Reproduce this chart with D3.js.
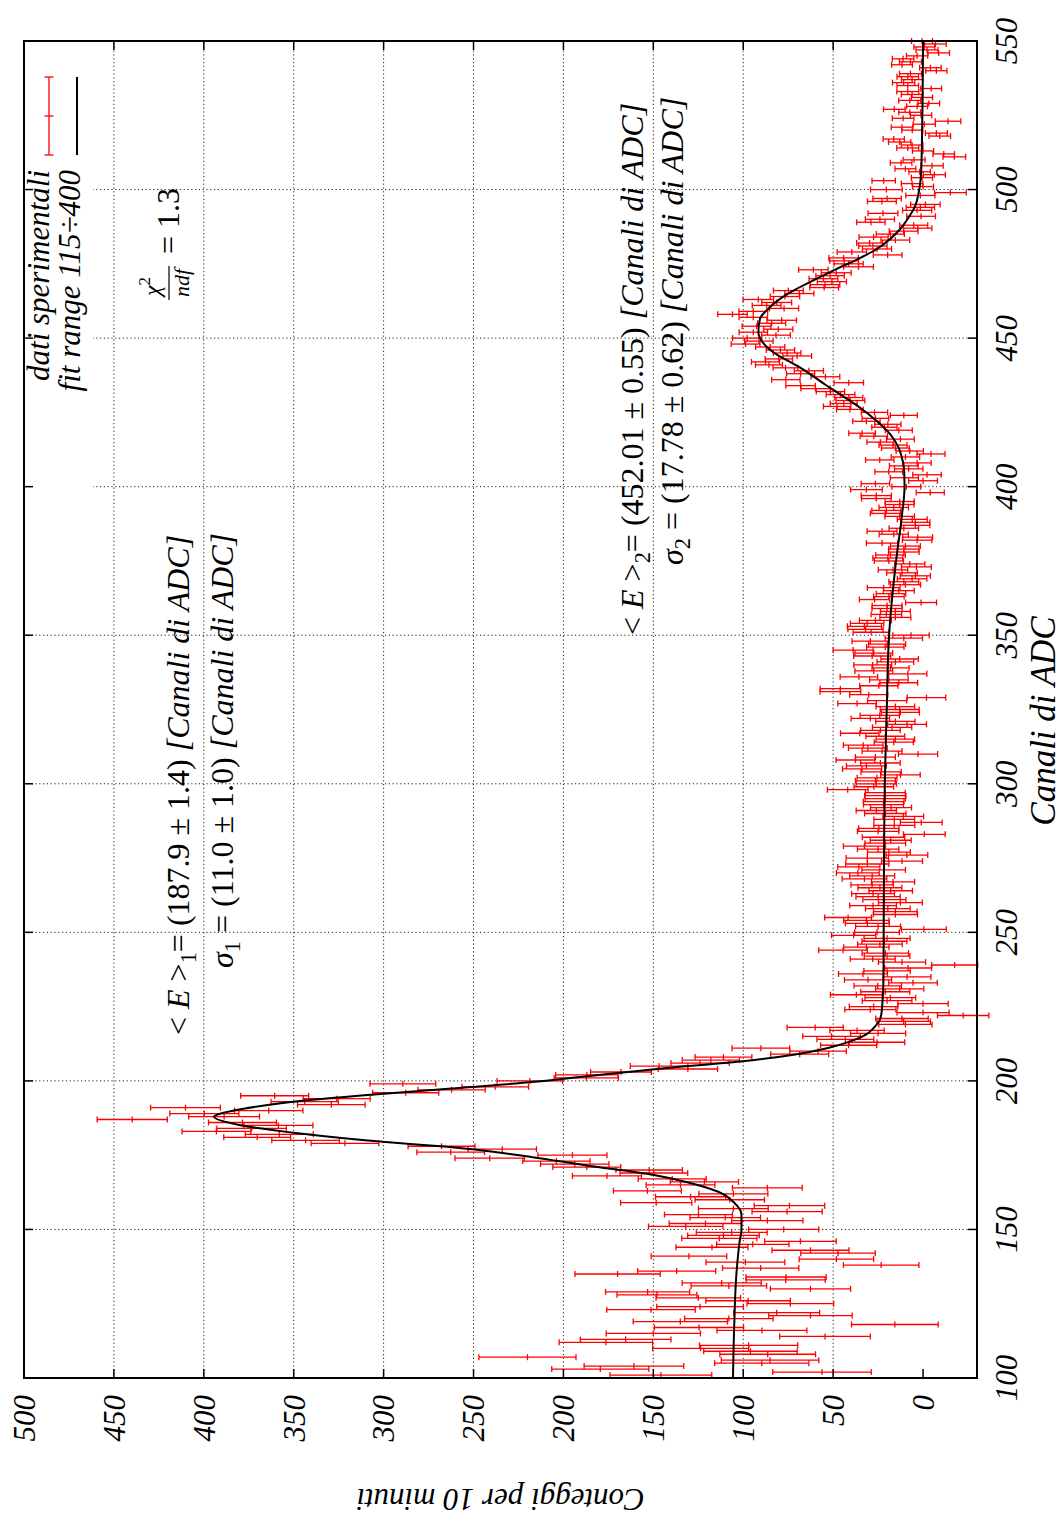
<!DOCTYPE html>
<html>
<head>
<meta charset="utf-8">
<script src="https://cdn.jsdelivr.net/npm/d3@7"></script>
<style>
  html, body { margin: 0; padding: 0; background: #fff; }
  svg { display: block; }
  text { font-family: "Liberation Serif", "Times New Roman", serif; fill: #000; }
</style>
</head>
<body>
<svg id="grafico" width="1064" height="1522"></svg>
<script>
// Spettro: conteggi per 10 minuti in funzione del canale ADC (un valore per canale, dal canale 101)
const primoCanale = 101;
const conteggi = [
  145.8, 56.2, 179.5, 160.8, 89.7, 85.1, 220, 86.4, 96, 123.7,
  97, 176.4, 165.4, 54.5, 150, 89.6, 124.6, 15.7, 135, 108,
  62.6, 81.4, 151.3, 124, 73.8, 97.3, 125, 148, 153.2, 62.6,
  108, 112, 76.4, 76.2, 169.9, 137, 90.3, 23.3, 98.8, 48.2,
  130.2, 47.3, 62.6, 117.4, 94.7, 68.2, 113.3, 111, 106.4, 77.5, 132,
  121, 86.6, 110, 124.9, 75.6, 105.5, 74.3, 148.4, 107.5, 129.3,
  105.5, 153.3, 86.6, 134.9, 121.6, 139.5, 175.8, 149.7, 152.3, 187,
  193.7, 203.9, 241, 195, 262.7, 234, 267.8, 321.5, 343.4, 370.3,
  358, 393, 373.4, 358.5, 378.5, 439.8, 388.7, 399.7, 363.9, 410.2,
  329.1, 343.9, 326.1, 360.6, 287.7, 262.2, 237.9, 289.3, 218.7, 187.3,
  187, 168, 130.8, 146.8, 124, 118, 111, 68.6, 58.4, 90.2,
  41.4, 25.6, 43.2, 50.9, 25, 36.7, 60, 9.8, 10.8, 11.7,
  -22.3, 0, 29.3, 27.5, 0, 20, 18.2, 37.1, 21, 13,
  25.2, 5.6, 30.6, 8.9, 33.4, 20, 8.3, -17.6, 11.7, 28,
  20, 21, 44.5, 31.5, 24, 21.5, 20, 38.6,
  25.6, -0.4, 25, 31, 31.5, 41.7, 15.4, 15.4, 19.6, 27.8,
  12.6, 21.5, 25, 27.8, 18, 24, 28.3, 16.7, 32.6, 28.3,
  36.3, 21.9, 35.7, 31, 11.7, 31, 9, 19, 25, 32.6,
  21, 18, 22, -0.7, 25, 24.6, 16, 1, 16, 11,
  21, 26, 17.8, 22, 21.9, 21, 21, 21, 41.9, 27.4,
  26, 26.5,
  25.6, 12.6, 23.3, 33.9, 31.5, 23.7, 37.6, 26.5, 2.8, 22.8,
  30.7, 33.3, 16.3, 15.4, 21, 35.2, 23.7, 17.2, 8.9, 15.4,
  29.3, 24.1, 12.6, 13, 15.4, 36.7, 20, -1.9, 30.2, 46,
  46, 24.6, 13.5, 19, 35.7, 8.5, 27.4, 18.1, 28, 15.4,
  13, 28.3, 27.4, 38.9, 21, 20, 29.3, 10.7, 6.7,
  28.9, 32, 32.6, 31.1, 26.5, 15.4, 20.4, 15.4, 20, 20,
  1.1, 27, 19, 17.8, 13.5, 21.9, 9.8, 10.7, 6.1, 4.3,
  11.7, 16.7, 3.7, 7.4, 19, 19.6, 18.1, 10.7, 10.7, 9.8,
  22.8, 3.3, 3, 16.3, 22.8, 10.7, 4.3, 4.3, 6, 13,
  21, 20.4, 16.3, 13, 13, 26, 26, -4, 31.5, 9.3,
  26.5, 0, 10.4, -2.2, 19.1, 8, 10.7, 3.3, 24.1, 9.8,
  -4.4, 7.4, 15.4, 16.7, 23.7, 12.6, 27.4, 33.9, 13.5, 21.5,
  19.6, 31.5, 26.5, 10.7, 27, 40.7, 47.8, 44.1, 40.4, 41.3,
  45.9, 51.5, 59.8, 68.1, 41.3, 76.3, 54.3, 68.1, 63.5, 76.5,
  85.7, 87.6, 80.2, 70, 75.6, 79.3, 85, 98.7, 91.3, 97.8,
  81.8, 94.4, 80.5, 92.6, 84.2, 78.6, 94.4, 106, 94.4, 77.3,
  87, 81.4, 91.6, 76.8, 68.8, 74.9, 55, 54.5, 50.7, 55.4,
  51.7, 48.3, 61, 35.9, 41.4, 43.9, 44.2, 19.7, 39.6, 25.6,
  27.9, 29.7, 15.4, 27.5, 18.2, 10.8, 3, 5.2, 29, 24,
  1.1, 22.3, 3.3, 1.5, -1.3, 22.9, 20, 1.5, -15.2, 20.4,
  0, 6.1, 21.9, 0.6, -6.3, 1.9, 9.8, -5, 12.2, 5,
  -17.4, -11.5, 0, 8.5, 6.1, 13, 16.3, -9.3, -7.4, 6,
  11.7, -0.7, -13.9, 11.1, 1.1, 7.4, 16, 3.3, -3.2, 7.4,
  0.6, 6.1, 8.5, -4.5, 8.5, 10.8, 6.1, 8.5, 7, -7.4,
  -4.1, 11.7, 7, 11.1, 3.3, -8.7, -2.2, -0.7, -6.9, 0.6
];

// Incertezza su ciascun conteggio (semiampiezza della barra)
const errori = [
  28.3, 27.4, 27, 27.7, 26.2, 27.1, 27, 26.6, 26, 26.7,
  27.3, 26, 25.2, 25.2, 26.2, 25, 24.8, 24.1, 26.2, 24.6,
  23.2, 23.9, 24.6, 24.1, 24.1, 23.5, 23.5, 22.2, 23.4, 22.3,
  21, 22, 22, 22.3, 23.7, 21.7, 21.2, 21, 21.9, 20.7,
  21, 20.7, 21.4, 20, 20.1, 19.9, 20.9, 19.9, 19.7, 19.5, 20.7,
  20.2, 19.8, 19.6, 18.9, 19.5, 19.4, 19.6, 19.8, 19.3, 19.5,
  19.2, 18.9, 19.4, 19.1, 19, 18.9, 19.2, 18.8, 18.5, 18.9,
  19, 18.7, 19.3, 19.2, 18.8, 19, 18.6, 18.8, 18.8, 18.6,
  18.9, 19.1, 19.3, 19.2, 18.9, 19.5, 19.7, 19.2, 19, 19.4,
  18.8, 18.7, 18.6, 18.9, 18.4, 18.7, 18.5, 18.3, 18.2, 17.9,
  17.3, 16.9, 16.5, 16, 16.2, 15.9, 15.8, 16.1, 15.7, 16,
  15.6, 15.4, 15.8, 16, 15.3, 15.1, 15.6, 14.8, 14.9, 14.6,
  14.3, 14.5, 14.2, 13.5, 14, 13.8, 14.1, 14.4, 13.6, 13.4,
  13.2, 13.5, 13.1, 13.3, 13.6, 12.9, 13, 12.8, 13.1, 12.5,
  12.7, 12.9, 13.5, 12.6, 12.4, 12.5, 12.8, 12.3,
  12.4, 12.5, 12.5, 12.2, 12.6, 13, 12.3, 12.1, 12.4, 13,
  12.2, 12, 12.3, 11.9, 12.1, 12.2, 11.8, 12, 12.4, 12.5,
  11.9, 12.1, 11.7, 12, 11.4, 11.8, 11.6, 11.9, 11.5, 11.7,
  11.3, 11.4, 11.8, 11.6, 11.5, 11.2, 11.4, 11.6, 11.3, 11.3,
  11.5, 11.2, 11.4, 11.1, 11.3, 11.2, 11.5, 11.1, 11.3, 11,
  11.2, 11.1,
  11.1, 11, 11.2, 10.9, 11.1, 11, 10.8, 11.1, 10.9, 11.1,
  10.8, 11, 10.9, 10.7, 10.8, 10.7, 11, 10.9, 10.8, 10.9,
  10.7, 10.9, 10.6, 10.8, 10.7, 10.7, 10.9, 10.7, 10.6, 11.3,
  11.2, 10.6, 10.5, 10.7, 10.4, 10.6, 10.5, 10.3, 10.5, 10.2,
  10.4, 10.3, 10.5, 11.1, 10.4, 10.3, 10.2, 10.4, 10.1,
  10, 9.8, 9.5, 9.3, 8.9, 8.6, 8.5, 8.3, 8.4, 8.3,
  8.6, 8.4, 8.5, 8.2, 8.6, 9.1, 8.4, 8.3, 8.2, 8.4,
  8.5, 8.2, 8.3, 8.4, 8.1, 8.3, 8.2, 8.5, 8.4, 8.3,
  8.7, 8.2, 8.3, 8.1, 8.3, 8.2, 8, 8.1, 8.3, 8.2,
  8.3, 8.1, 8.2, 8, 8.1, 8.2, 8.4, 7.8, 8.8, 8,
  7.9, 8, 7.8, 7.9, 7.7, 7.9, 8, 7.8, 7.9, 7.9,
  7.8, 7.6, 7.7, 7.8, 7.5, 7.7, 7.6, 7.4, 7.5, 7,
  7.3, 7.6, 7.4, 7.5, 7.3, 7.4, 7.6, 7.5, 8, 7.8,
  8, 7.9, 8.1, 8.2, 8.2, 7.9, 8, 7.8, 8.1, 6.9,
  7.5, 7.8, 7.6, 8, 7.7, 7.9, 8.1, 8, 7.9, 8.1,
  8, 7.9, 8.1, 8, 7.8, 8.2, 7.9, 8.2, 8, 8.1,
  8, 8.3, 8.5, 8.2, 8.1, 8.3, 8, 8.2, 8.1, 8,
  7.9, 8.3, 8.2, 8.3, 8.1, 8, 8.2, 8, 8.2, 8.1,
  7.9, 7.2, 8, 8.1, 7.8, 8, 7.9, 7.8, 7.9, 8.1,
  8, 8.3, 8.1, 7.9, 8.2, 8, 7.9, 8.1, 8.8, 8.8,
  5.8, 6, 6.5, 5.9, 6.1, 6, 5.8, 6.2, 6, 6.1,
  6.3, 6, 5.9, 6.1, 6, 6.2, 5.9, 6, 6.1, 5.8,
  6, 6.2, 7.1, 6, 5.9, 6.1, 6, 5.8, 6, 6.1,
  5.9, 6, 6.1, 5.8, 6, 6.2, 5.9, 6, 6.1, 5.9,
  6, 5.8, 6.1, 6, 5.9, 6, 6.1, 5.8, 6, 5.8
];

// Curva di fit (due picchi su fondo), punti letti lungo la curva
const fitCanali = [
  100, 118, 135, 146, 150, 155, 159, 162.7, 166, 168.3,
  171.6, 174.4, 177.8, 179.5, 182.3, 185.1, 187.9, 190.7, 192.9, 195.2,
  197.4, 199.7, 201.5, 204.3, 206.5, 208.8, 211, 213.3, 215.5, 217.8,
  221.1, 224.5, 235, 250, 275, 300, 325, 350, 375, 390,
  400, 405, 408.5, 413, 417.5, 422, 426.5, 431, 434.3, 440,
  445.5, 450, 452.01, 456.5, 459.9, 463.2, 466.6, 470, 473.3, 476.7,
  480, 483.4, 486.8, 490.1, 494.6, 499.1, 508, 550
];
const fitValori = [
  105.7, 105, 103.8, 102, 101, 101, 105, 113.9, 131.8, 149.7,
  188, 218, 264.7, 300.5, 346.5, 379.7, 394.3, 377.2, 351.6, 310.7,
  262.2, 216, 188, 142.5, 101.7, 72, 53.4, 40.4, 32, 27.5,
  23.7, 22.8, 22, 21.9, 21.7, 21.3, 20.2, 18.9, 15, 11.8,
  10.3, 10.5, 11.3, 13.5, 18.1, 25.6, 34.8, 45.9, 54.3, 68.1,
  83.9, 90.7, 91.6, 90.7, 86.1, 79.6, 70.3, 59.1, 48, 35.9,
  25.7, 18.2, 12.6, 8.6, 4.3, 2.4, 0.9, 0
];

const tickCanali = [100, 150, 200, 250, 300, 350, 400, 450, 500, 550];
const tickConteggi = [0, 50, 100, 150, 200, 250, 300, 350, 400, 450, 500];

const etichettaX = "Canali di ADC";
const etichettaY = "Conteggi per 10 minuti";
const legendaDati = "dati sperimentali";
const legendaFit = "fit range 115÷400";

// ---- impaginazione: il grafico è disegnato orizzontale e poi ruotato di 90° ----
const W = 1522, H = 1064;
const area = { x0: 144, x1: 1481, y0: 24, y1: 977 };

const svg = d3.select("#grafico");
const g = svg.append("g").attr("transform", `translate(0,${W}) rotate(-90)`);

const x = d3.scaleLinear().domain([100, 550]).range([area.x0, area.x1]);
const y = d3.scaleLinear().domain([-30, 500]).range([area.y1, area.y0]);

const FS = 31;

// griglia punteggiata
const griglia = g.append("g").attr("stroke", "#222").attr("stroke-width", 1)
  .attr("stroke-dasharray", "1.2,2.6").attr("fill", "none");
tickCanali.slice(1, -1).forEach(c => {
  griglia.append("line").attr("x1", x(c)).attr("x2", x(c)).attr("y1", area.y0).attr("y2", area.y1);
});
tickConteggi.slice(1, -1).forEach(v => {
  griglia.append("line").attr("x1", area.x0).attr("x2", area.x1).attr("y1", y(v)).attr("y2", y(v));
});

// riquadro della legenda (copre la griglia)
g.append("rect").attr("x", 1022).attr("y", area.y0 + 1).attr("width", area.x1 - 1023).attr("height", 68)
  .attr("fill", "#fff");

// dati con barre d'errore
const dati = conteggi.map((v, i) => ({ c: primoCanale + i, v, e: errori[i] }));
const cap = 3;
const punti = g.append("g").attr("stroke", "#ff0000").attr("stroke-width", 1.3).attr("fill", "none");
const pg = punti.selectAll("g").data(dati).join("g");
pg.append("line")
  .attr("x1", d => x(d.c)).attr("x2", d => x(d.c))
  .attr("y1", d => y(d.v - d.e)).attr("y2", d => y(d.v + d.e));
pg.append("line")
  .attr("x1", d => x(d.c) - cap).attr("x2", d => x(d.c) + cap)
  .attr("y1", d => y(d.v - d.e)).attr("y2", d => y(d.v - d.e));
pg.append("line")
  .attr("x1", d => x(d.c) - cap).attr("x2", d => x(d.c) + cap)
  .attr("y1", d => y(d.v + d.e)).attr("y2", d => y(d.v + d.e));
pg.append("line")
  .attr("x1", d => x(d.c) - cap).attr("x2", d => x(d.c) + cap)
  .attr("y1", d => y(d.v)).attr("y2", d => y(d.v));

// curva di fit
const fitPunti = fitCanali.map((c, i) => [c, fitValori[i]]);
g.append("path").datum(fitPunti)
  .attr("fill", "none").attr("stroke", "#000").attr("stroke-width", 2)
  .attr("d", d3.line().x(d => x(d[0])).y(d => y(d[1])).curve(d3.curveMonotoneX));

// tacche verso l'interno su tutti i lati
const tacche = g.append("g").attr("stroke", "#000").attr("stroke-width", 1.5);
const LT = 9;
tickCanali.forEach(c => {
  tacche.append("line").attr("x1", x(c)).attr("x2", x(c)).attr("y1", area.y1).attr("y2", area.y1 - LT);
  tacche.append("line").attr("x1", x(c)).attr("x2", x(c)).attr("y1", area.y0).attr("y2", area.y0 + LT);
});
tickConteggi.forEach(v => {
  tacche.append("line").attr("x1", area.x0).attr("x2", area.x0 + LT).attr("y1", y(v)).attr("y2", y(v));
  tacche.append("line").attr("x1", area.x1).attr("x2", area.x1 - LT).attr("y1", y(v)).attr("y2", y(v));
});

// cornice
g.append("rect").attr("x", area.x0).attr("y", area.y0)
  .attr("width", area.x1 - area.x0).attr("height", area.y1 - area.y0)
  .attr("fill", "none").attr("stroke", "#000").attr("stroke-width", 2);

// etichette delle tacche
g.append("g").selectAll("text").data(tickCanali).join("text")
  .attr("x", d => x(d)).attr("y", 1017).attr("text-anchor", "middle")
  .attr("font-size", FS).attr("font-style", "italic").text(d => d);
g.append("g").selectAll("text").data(tickConteggi).join("text")
  .attr("x", 127).attr("y", d => y(d)).attr("dy", "0.35em").attr("text-anchor", "end")
  .attr("font-size", FS).attr("font-style", "italic").text(d => d);

// titoli degli assi
g.append("text").attr("x", 801).attr("y", 1055)
  .attr("text-anchor", "middle").attr("font-size", 35).attr("font-style", "italic").text(etichettaX);
g.append("text").attr("transform", `translate(33,${(area.y0 + area.y1) / 2}) rotate(-90)`)
  .attr("text-anchor", "middle").attr("font-size", FS).attr("font-style", "italic").text(etichettaY);

// legenda
g.append("text").attr("x", 1352).attr("y", 49).attr("text-anchor", "end")
  .attr("font-size", FS).attr("font-style", "italic").text(legendaDati);
g.append("text").attr("x", 1352).attr("y", 80).attr("text-anchor", "end")
  .attr("font-size", FS).attr("font-style", "italic").text(legendaFit);
const campione = g.append("g").attr("stroke", "#ff0000").attr("stroke-width", 1.3);
campione.append("line").attr("x1", 1367).attr("x2", 1445).attr("y1", 49).attr("y2", 49);
[1367, 1406, 1445].forEach(px => {
  campione.append("line").attr("x1", px).attr("x2", px).attr("y1", 44.5).attr("y2", 53.5);
});
g.append("line").attr("x1", 1367).attr("x2", 1445).attr("y1", 77).attr("y2", 77)
  .attr("stroke", "#000").attr("stroke-width", 2);

// annotazioni con i parametri del fit
function testoComposto(px, py, parti, size) {
  const t = g.append("text").attr("x", px).attr("y", py).attr("font-size", size);
  let spost = 0;
  parti.forEach(p => {
    const ts = t.append("tspan").text(p.t).attr("font-style", p.it ? "italic" : "normal");
    const voluto = p.sub ? 0.22 * size : (p.sup ? -0.4 * size : 0);
    if (voluto !== spost) { ts.attr("dy", voluto - spost); spost = voluto; }
    if (p.sub || p.sup) ts.attr("font-size", size * 0.7);
  });
  return t;
}
const FA = 32;
testoComposto(487, 189, [
  { t: "< " }, { t: "E", it: true }, { t: " >" }, { t: "1", sub: true },
  { t: "= (187.9 ± 1.4) " }, { t: "[Canali di ADC]", it: true }
], FA);
testoComposto(554, 233, [
  { t: "σ", it: true }, { t: "1", sub: true }, { t: " = (11.0 ± 1.0) " }, { t: "[Canali di ADC]", it: true }
], FA);
testoComposto(887, 643, [
  { t: "< " }, { t: "E", it: true }, { t: " >" }, { t: "2", sub: true },
  { t: "= (452.01 ± 0.55) " }, { t: "[Canali di ADC]", it: true }
], FA);
testoComposto(957, 683, [
  { t: "σ", it: true }, { t: "2", sub: true }, { t: " = (17.78 ± 0.62) " }, { t: "[Canali di ADC]", it: true }
], FA);

// chi quadro ridotto
const chi = g.append("g");
testoComposto(1226, 160, [{ t: "χ", it: true }, { t: "2", sup: true }], 24);
chi.append("line").attr("x1", 1222).attr("x2", 1256).attr("y1", 169).attr("y2", 169)
  .attr("stroke", "#000").attr("stroke-width", 1.2);
g.append("text").attr("x", 1239).attr("y", 189).attr("text-anchor", "middle")
  .attr("font-size", 22).attr("font-style", "italic").text("ndf");
g.append("text").attr("x", 1268).attr("y", 179).attr("font-size", FA).text("= 1.3");
</script>
</body>
</html>
